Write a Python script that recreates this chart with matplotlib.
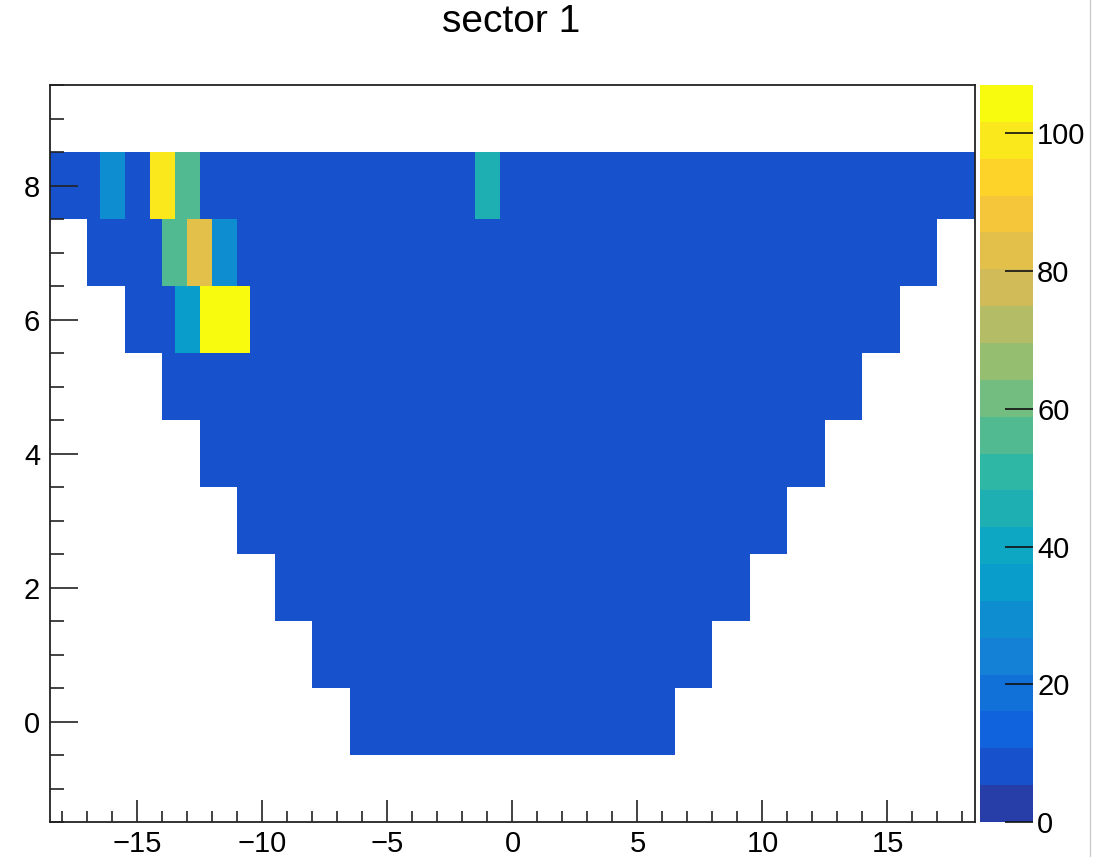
import numpy as np
import matplotlib
matplotlib.use("Agg")
from matplotlib import pyplot as plt
from matplotlib.colors import ListedColormap, BoundaryNorm
from matplotlib.ticker import MultipleLocator
from matplotlib.lines import Line2D

plt.rcParams['font.family'] = ['Liberation Sans', 'DejaVu Sans']

# pad rows of the sector: row number, first pad left edge, number of pads
rows = [0, 1, 2, 3, 4, 5, 6, 7, 8]
row_start = [-6.5, -8.0, -9.5, -11.0, -12.5, -14.0, -15.5, -17.0, -18.5]
row_npads = [13, 16, 19, 22, 25, 28, 31, 34, 37]
background = 8

# pads with a larger content: (row, pad index, value)
hot_rows = [8, 8, 8, 8, 7, 7, 7, 6, 6, 6]
hot_pads = [2, 4, 5, 17, 3, 4, 5, 2, 3, 4]
hot_vals = [30, 100, 56, 46, 56, 83, 30, 35, 107, 107]

zmax = 107
ncont = 20

# ROOT kBird palette
stops = [0.0, 0.125, 0.25, 0.375, 0.5, 0.625, 0.75, 0.875, 1.0]
red = [0.2082, 0.0592, 0.0780, 0.0232, 0.1802, 0.5301, 0.8186, 0.9956, 0.9764]
green = [0.1664, 0.3599, 0.5041, 0.6419, 0.7178, 0.7492, 0.7328, 0.7862, 0.9832]
blue = [0.5293, 0.8684, 0.8385, 0.7914, 0.6425, 0.4662, 0.3499, 0.1968, 0.0539]

cols = []
for i in range(ncont):
    f = int((i + 0.99) * 255 / ncont) / 254.0
    cols.append((np.interp(f, stops, red), np.interp(f, stops, green), np.interp(f, stops, blue)))
cmap = ListedColormap(cols)
levels = np.linspace(0, zmax, ncont + 1)
norm = BoundaryNorm(levels, ncont)

fig = plt.figure(figsize=(10.93, 8.57), dpi=100)
ax = fig.add_axes([0.0457, 0.0408, 0.8463, 0.86])

mesh = None
for r, x0, n in zip(rows, row_start, row_npads):
    vals = np.full(n, float(background))
    for hr, hp, hv in zip(hot_rows, hot_pads, hot_vals):
        if hr == r:
            vals[hp] = hv
    xe = x0 + np.arange(n + 1)
    ye = [r - 0.5, r + 0.5]
    mesh = ax.pcolormesh(xe, ye, vals[np.newaxis, :], cmap=cmap, norm=norm,
                         linewidth=0, antialiased=False)

ax.set_xlim(-18.5, 18.5)
ax.set_ylim(-1.5, 9.5)
ax.xaxis.set_major_locator(MultipleLocator(5))
ax.xaxis.set_minor_locator(MultipleLocator(1))
ax.yaxis.set_major_locator(MultipleLocator(2))
ax.yaxis.set_minor_locator(MultipleLocator(0.5))
ax.tick_params(axis='both', which='both', direction='in', top=False, right=False,
               labelsize=21, color='#222222', width=1.2)
ax.tick_params(axis='x', which='major', length=16, pad=6)
ax.tick_params(axis='x', which='minor', length=8)
ax.tick_params(axis='y', which='major', length=20, pad=7)
ax.tick_params(axis='y', which='minor', length=10)
for s in ax.spines.values():
    s.set_linewidth(1.3)
    s.set_color('#222222')

cax = fig.add_axes([0.8966, 0.0408, 0.0485, 0.86])
cb = fig.colorbar(mesh, cax=cax, ticks=[0, 20, 40, 60, 80, 100])
cb.outline.set_visible(False)
cax.tick_params(direction='in', length=20, width=1.2, labelsize=21, pad=3, color='#111111')
cax.minorticks_off()

fig.text(0.4675, 0.974, "sector 1", fontsize=28, ha='center', va='center')
fig.add_artist(Line2D([1090 / 1093, 1090 / 1093], [0, 1], color='#cccccc', linewidth=1))

fig.savefig("out.png", dpi=100)
